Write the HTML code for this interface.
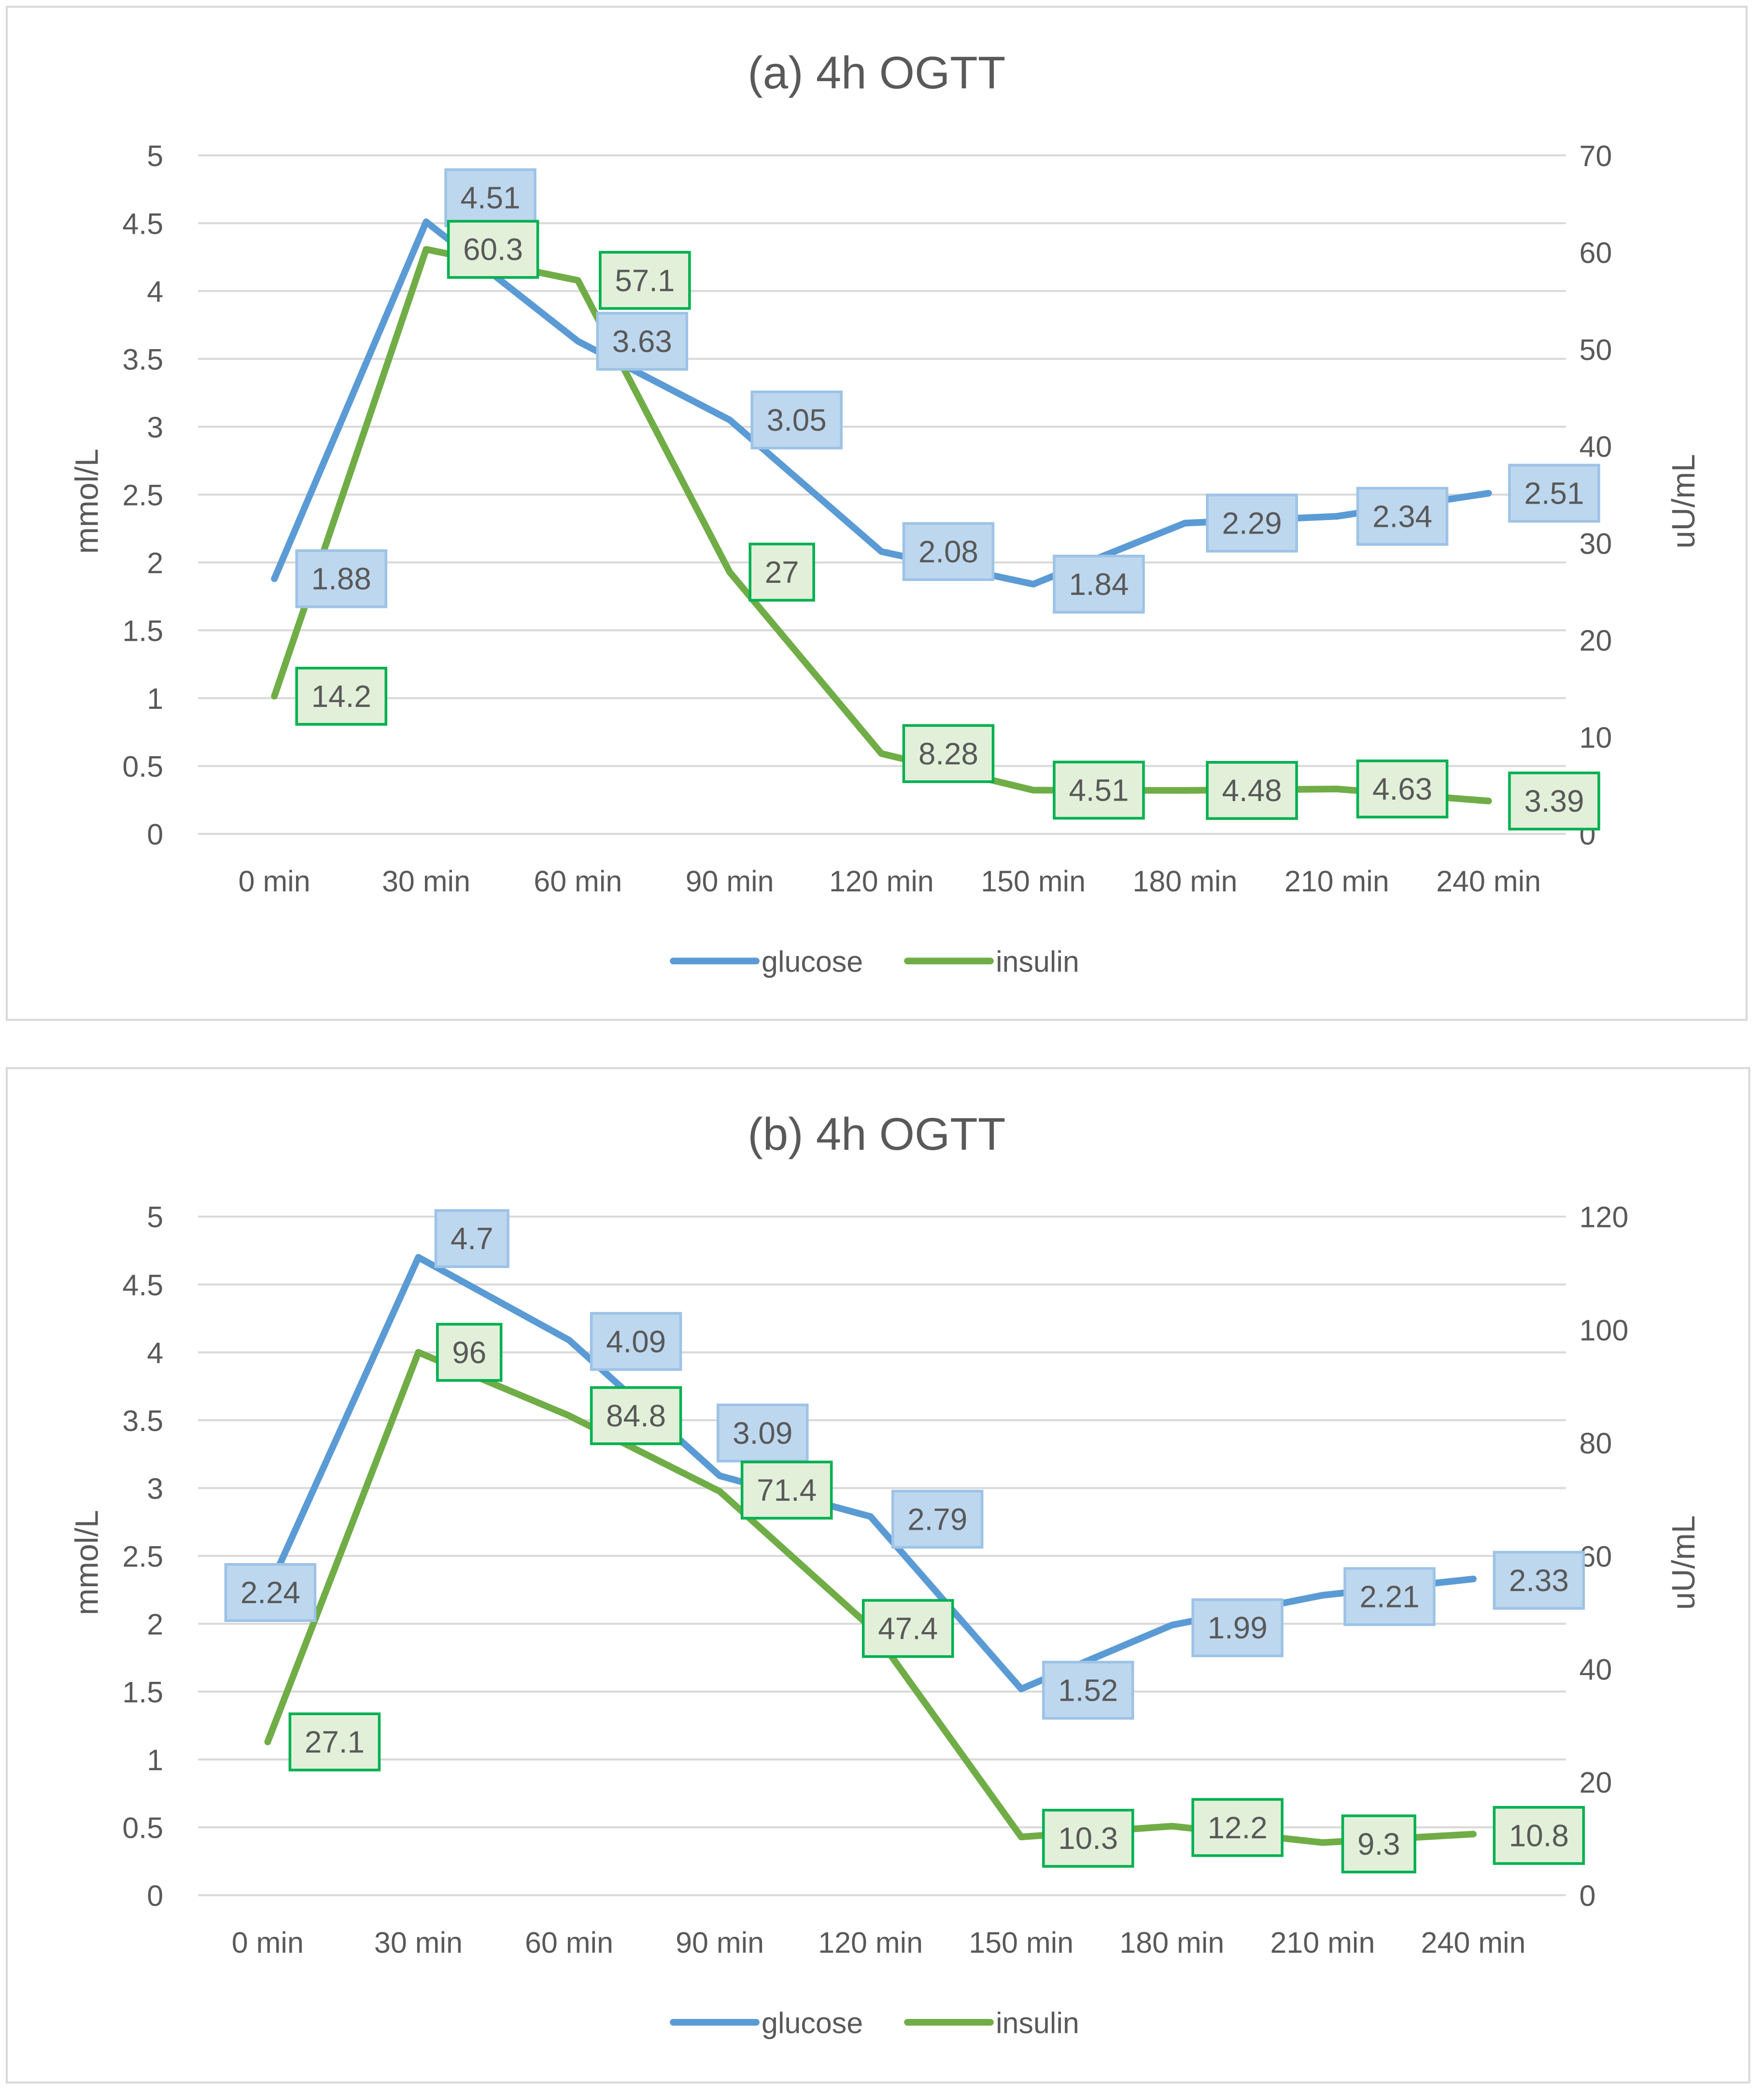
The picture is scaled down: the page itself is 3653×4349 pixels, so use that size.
<!DOCTYPE html>
<html><head><meta charset="utf-8">
<style>
html,body{margin:0;padding:0;background:#fff;}
svg{display:block;}
text{font-family:"Liberation Sans",sans-serif;fill:#595959;}
</style></head>
<body>
<svg id="root" width="3653" height="4349" viewBox="0 0 1318 1569" xmlns="http://www.w3.org/2000/svg">
<rect x="0" y="0" width="1318" height="1569" fill="#fff"/>
</svg>
<script>
// ---- data ----
const categories = ["0 min","30 min","60 min","90 min","120 min","150 min","180 min","210 min","240 min"];
const glucoseA = [1.88,4.51,3.63,3.05,2.08,1.84,2.29,2.34,2.51];
const insulinA = [14.2,60.3,57.1,27,8.28,4.51,4.48,4.63,3.39];
const glucoseB = [2.24,4.7,4.09,3.09,2.79,1.52,1.99,2.21,2.33];
const insulinB = [27.1,96,84.8,71.4,47.4,10.3,12.2,9.3,10.8];
const leftTicks = [0,0.5,1,1.5,2,2.5,3,3.5,4,4.5,5];
const rightTicksA = [0,10,20,30,40,50,60,70];
const rightTicksB = [0,20,40,60,80,100,120];

const NS = "http://www.w3.org/2000/svg";
const root = document.getElementById('root');
function mk(tag, attrs, parent){
  const e = document.createElementNS(NS, tag);
  for (const k in attrs) e.setAttribute(k, attrs[k]);
  (parent||root).appendChild(e);
  return e;
}

function drawChart(cfg){
  const g = mk('g', {});
  
  
  const border = mk('rect', {x:cfg.bx, y:cfg.by, width:cfg.bw, height:cfg.bh, fill:'#fff', stroke:'#d9d9d9', 'stroke-width':1.5}, g);
  
  
  const title = mk('text', {x:655, y:cfg.titleY, 'font-size':34, 'text-anchor':'middle'}, g);
  title.textContent = cfg.title;
  
  

  const x0 = cfg.plotX0, step = cfg.step, yb = cfg.yBottom, yt = cfg.yTop;
  const lmax = leftTicks[leftTicks.length-1];
  const rmax = cfg.rTicks[cfg.rTicks.length-1];
  const xs = i => x0 + step*i;
  const yl = v => yb - (yb-yt)*v/lmax;
  const yr = v => yb - (yb-yt)*v/rmax;

  leftTicks.forEach(t=>{
    const ln = mk('line', {x1:148, x2:1170, y1:yl(t), y2:yl(t), stroke:'#d9d9d9', 'stroke-width':1.5}, g);
    
    
    const tx = mk('text', {x:122, y:yl(t)+8, 'font-size':22, 'text-anchor':'end'}, g);
    tx.textContent = String(t);
    
    
  });
  cfg.rTicks.forEach(t=>{
    const tx = mk('text', {x:1180, y:yr(t)+8, 'font-size':22, 'text-anchor':'start'}, g);
    tx.textContent = String(t);
    
    
  });
  categories.forEach((c,i)=>{
    const tx = mk('text', {x:xs(i), y:cfg.catY, 'font-size':22, 'text-anchor':'middle'}, g);
    tx.textContent = c;
    
    
  });
  const midY = (yb+yt)/2;
  const lt = mk('text', {x:0, y:0, 'font-size':24, 'text-anchor':'middle', transform:`translate(73,${midY+5}) rotate(-90)`}, g);
  lt.textContent = 'mmol/L';
  
  
  const rt = mk('text', {x:0, y:0, 'font-size':24, 'text-anchor':'middle', transform:`translate(1266,${midY+5}) rotate(-90)`}, g);
  rt.textContent = 'uU/mL';
  
  

  function series(vals, yf, color, name){
    const pts = vals.map((v,i)=>xs(i)+','+yf(v)).join(' ');
    const pl = mk('polyline', {points:pts, fill:'none', stroke:color, 'stroke-width':5, 'stroke-linejoin':'round', 'stroke-linecap':'round'}, g);
    
    
  }
  function labels(vals, yf, dx, dy, fill, stroke, name){
    vals.forEach((v,i)=>{
      const cx = xs(i)+dx[i], cy = yf(v)+dy[i];
      const lg = mk('g', {}, g);
      
      
      const r = mk('rect', {x:0, y:cy-21, width:10, height:42, fill:fill, stroke:stroke, 'stroke-width':2}, lg);
      const t = mk('text', {x:cx, y:cy+8, 'font-size':23, 'text-anchor':'middle'}, lg);
      t.textContent = String(v);
      let w = 13*String(v).length + 20;
      try { w = t.getComputedTextLength() + 22; } catch(e){}
      r.setAttribute('x', cx - w/2);
      r.setAttribute('width', w);
    });
  }
  series(cfg.glucose, yl, '#5b9bd5', 'glucose');
  series(cfg.insulin, yr, '#70ad47', 'insulin');
  labels(cfg.glucose, yl, cfg.gdx, cfg.gdy, '#bdd7ee', '#9dc3e6', 'glucose');
  labels(cfg.insulin, yr, cfg.idx, cfg.idy, '#e2f0d9', '#00b050', 'insulin');

  const ly = cfg.legendY;
  const l1 = mk('line', {x1:503, x2:565, y1:ly, y2:ly, stroke:'#5b9bd5', 'stroke-width':5, 'stroke-linecap':'round'}, g);
  
  
  const lt1 = mk('text', {x:569, y:ly+8, 'font-size':22}, g);
  lt1.textContent = 'glucose';
  
  
  const l2 = mk('line', {x1:678, x2:740, y1:ly, y2:ly, stroke:'#70ad47', 'stroke-width':5, 'stroke-linecap':'round'}, g);
  
  
  const lt2 = mk('text', {x:744, y:ly+8, 'font-size':22}, g);
  lt2.textContent = 'insulin';
  
  
}

drawChart({
  name:'chart-a', title:'(a) 4h OGTT', bx:5, by:5, bw:1300, bh:757, titleY:66,
  plotX0:205, step:113.4, yBottom:623, yTop:116, catY:666, legendY:718,
  rTicks:rightTicksA, glucose:glucoseA, insulin:insulinA,
  gdx:[50,48,48,50,50,49,50,49,49], gdy:[0,-18,0,0,0,0,0,0,0],
  idx:[50,50,50,39,50,49,50,49,49], idy:[0,0,0,0,0,0,0,0,0]
});
drawChart({
  name:'chart-b', title:'(b) 4h OGTT', bx:5, by:798, bw:1302, bh:758, titleY:859,
  plotX0:200, step:112.6, yBottom:1416, yTop:909, catY:1459, legendY:1511,
  rTicks:rightTicksB, glucose:glucoseB, insulin:insulinB,
  gdx:[2,40,50,32,50,50,49,50,49], gdy:[1,-14,1,-32,2,1,2,1,1],
  idx:[50,38,50,50,28,50,49,42,49], idy:[0,0,0,-1,1,1,1,1,1]
});
</script>
</body></html>
